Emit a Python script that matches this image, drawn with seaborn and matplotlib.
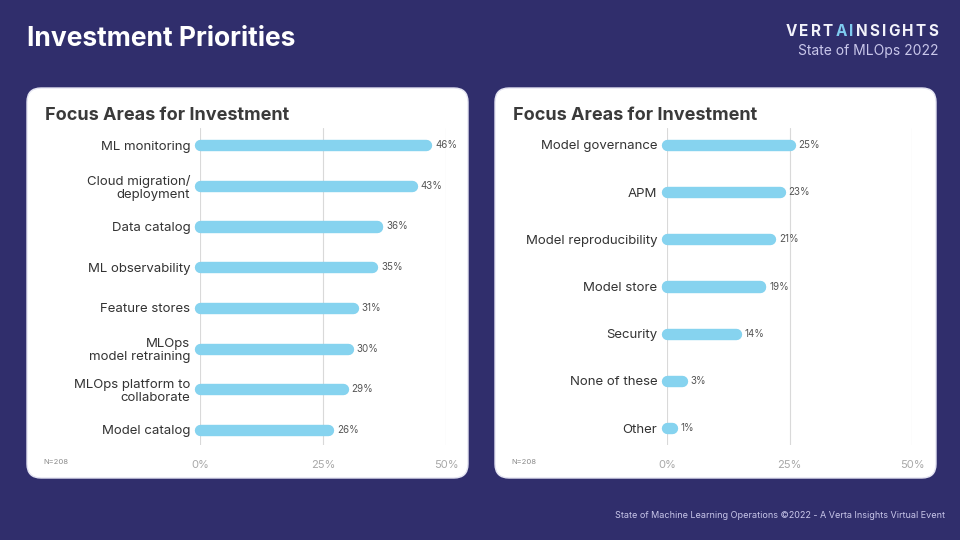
import numpy as np
import pandas as pd
import matplotlib.pyplot as plt
from matplotlib.patches import FancyBboxPatch
import seaborn as sns

sns.set_style('white')
plt.rcParams['font.family'] = ['Inter', 'DejaVu Sans']
plt.rcParams['path.simplify'] = False

# 데이터
left_areas = ['ML monitoring', 'Cloud migration/\ndeployment', 'Data catalog',
              'ML observability', 'Feature stores', 'MLOps\nmodel retraining',
              'MLOps platform to\ncollaborate', 'Model catalog']
left_pct = [46, 43, 36, 35, 31, 30, 29, 26]

right_areas = ['Model governance', 'APM', 'Model reproducibility', 'Model store',
               'Security', 'None of these', 'Other']
right_pct = [25, 23, 21, 19, 14, 3, 1]

x_ticks = [0, 25, 50]
x_tick_labels = ['0%', '25%', '50%']
sample_note = 'N=208'

BG = '#302E6C'
BAR = '#86D3EF'
W, H = 960, 540


def fx(px):
    return px / W


def fy(py):
    return 1 - py / H


fig = plt.figure(figsize=(9.6, 5.4), dpi=100)
fig.patch.set_facecolor(BG)

# 배경 카드
bg = fig.add_axes([0, 0, 1, 1], zorder=0)
bg.set_xlim(0, W)
bg.set_ylim(H, 0)
bg.axis('off')
for x0 in [27, 495]:
    card = FancyBboxPatch((x0, 88), 441, 390,
                          boxstyle='round,pad=0,rounding_size=14',
                          facecolor='white', edgecolor='#E4E4F2', lw=1)
    bg.add_patch(card)
    bg.text(x0 + 18, 116, 'Focus Areas for Investment', fontsize=13,
            fontweight='bold', color='#3A3A3A', va='center', ha='left')
    bg.text(x0 + 16, 462, sample_note, fontsize=5.5, color='#8A8A8A',
            va='center', ha='left')

bg.text(27, 39, 'Investment Priorities', fontsize=19, fontweight='bold',
        color='white', va='center', ha='left')
bg.text(938, 51, 'State of MLOps 2022', fontsize=10, color='#C9C7EA',
        va='center', ha='right')
bg.text(945, 516, 'State of Machine Learning Operations \u00a92022 - A Verta Insights Virtual Event',
        fontsize=6.5, color='#C9C7EA', va='center', ha='right')

# 로고 (자간 넓게)
logo = 'VERTAINSIGHTS'
renderer = fig.canvas.get_renderer()
widths = []
for ch in logo:
    t = bg.text(0, 0, ch, fontsize=11, fontweight='bold')
    widths.append(t.get_window_extent(renderer).width)
    t.remove()
tracking = 2.3
total = sum(widths) + tracking * (len(logo) - 1)
x = 938 - total
for i, ch in enumerate(logo):
    col = '#7FCBEF' if i in (4, 5) else '#F2F2FA'
    bg.text(x, 31, ch, fontsize=11, fontweight='bold', color=col,
            va='center', ha='left')
    x += widths[i] + tracking


def draw_panel(rect, areas, pct, ylim):
    ax = fig.add_axes(rect, zorder=1)
    ax.patch.set_alpha(0)
    df = pd.DataFrame({'area': areas, 'pct': pct})
    sns.barplot(data=df, x='pct', y='area', orient='h', ax=ax, color=BAR,
                width=0.002, errorbar=None, saturation=1)
    # 둥근 막대: 얇은 막대 + 두꺼운 둥근 테두리
    for p in ax.patches:
        p.set_edgecolor(BAR)
        p.set_linewidth(8.2)
        p.set_joinstyle('round')
        p.set_capstyle('round')
        p.set_clip_on(False)
        p.set_zorder(3)
    ax.set_xlim(0, 50)
    ax.set_ylim(*ylim)
    ax.set_xticks(x_ticks)
    ax.set_xticklabels(x_tick_labels)
    ax.grid(axis='x', color='#D9D9D9', lw=0.8, zorder=0)
    ax.grid(axis='y', visible=False)
    for s in ax.spines.values():
        s.set_visible(False)
    ax.set_xlabel('')
    ax.set_ylabel('')
    ax.tick_params(axis='x', length=0, pad=11, labelsize=8, labelcolor='#A8A8A8')
    ax.tick_params(axis='y', length=0, pad=7, labelsize=9.5, labelcolor='#333333')
    for lab in ax.get_yticklabels():
        lab.set_linespacing(1.15)
    for i, v in enumerate(pct):
        ax.annotate(f'{v}%', (v, i), xytext=(6.5, 0), textcoords='offset points',
                    fontsize=7, color='#555555', va='center', ha='left')
    return ax


draw_panel([fx(200), fy(445), fx(446) - fx(200), fy(128) - fy(445)],
           left_areas, left_pct, (7.37, -0.42))
draw_panel([fx(667), fy(445), fx(912) - fx(667), fy(128) - fy(445)],
           right_areas, right_pct, (6.36, -0.36))

plt.savefig('out.png', dpi=100, facecolor=BG)
